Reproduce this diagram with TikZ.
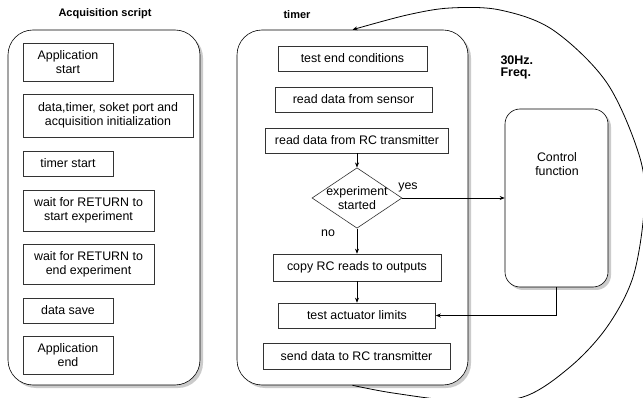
\documentclass[tikz,border=0pt]{standalone}
\usepackage{fontspec}
\setmainfont{Liberation Sans}
\usetikzlibrary{shapes.geometric,arrows.meta,shadows,positioning,calc}

\tikzset{
  box/.style={draw=black!80, line width=0.6pt, fill=white, align=center, inner sep=1pt,
    font=\fontsize{12.4}{14}\selectfont},
  panel/.style={draw, line width=0.6pt, fill=white, inner sep=0pt,
    drop shadow={shadow xshift=3pt, shadow yshift=-3pt, fill=black!40}},
  heading/.style={font=\fontsize{11}{13}\selectfont\bfseries},
  flow/.style={-{Stealth[length=5pt,width=4pt]}, line width=0.6pt},
}

\begin{document}
\begin{tikzpicture}[x=1pt, y=-1pt]
            \fill[white] (0,0) rectangle (643,398);
            \useasboundingbox (0,0) rectangle (643,398);

            % Acquisition script
            \node[panel, rounded corners=25pt, minimum width=192pt, minimum height=355pt] (acq) at (104,207.5) {};
            \node[heading] (acqtitle) at (105,14) {Acquisition script};
            \node[box, minimum width=90pt, minimum height=38pt] (appstart) at (68,62) {Application\\start};
            \node[box, minimum width=170pt, minimum height=43pt] (init) at (108,115.5) {data,timer, soket port and\\acquisition initialization};
            \node[box, minimum width=90pt, minimum height=25pt] (tstart) at (68,163.5) {timer start};
            \node[box, minimum width=131pt, minimum height=41pt] (waitstart) at (88.5,210.5) {wait for RETURN to\\start experiment};
            \node[box, minimum width=131pt, minimum height=40pt] (waitend) at (88.5,264) {wait for RETURN to\\end experiment};
            \node[box, minimum width=90pt, minimum height=25pt] (save) at (68,310.5) {data save};
            \node[box, minimum width=90pt, minimum height=38pt] (append) at (68,355) {Application\\end};

            % timer
            \node[panel, rounded corners=25pt, minimum width=231pt, minimum height=355pt] (timer) at (352.5,207.5) {};
            \node[heading] (timertitle) at (297,15) {timer};
            \node[box, minimum width=149pt, minimum height=25pt] (testend) at (352.5,58.5) {test end conditions};
            \node[box, minimum width=157pt, minimum height=25pt] (sensor) at (353.5,99.5) {read data from sensor};
            \node[box, minimum width=183pt, minimum height=25pt] (rcread) at (357,140.5) {read data from RC transmitter};
            \node[box, diamond, inner sep=-6pt, minimum width=90pt, minimum height=50pt] (started) at (357,198) {experiment\\started};
            \node[box, minimum width=168pt, minimum height=27pt] (copy) at (357,267.5) {copy RC reads to outputs};
            \node[box, minimum width=157pt, minimum height=25pt] (limits) at (357,315.5) {test actuator limits};
            \node[box, minimum width=187pt, minimum height=26pt] (send) at (356.5,356) {send data to RC transmitter};

            % Control function
            \node[panel, rounded corners=15pt, minimum width=103pt, minimum height=178pt] (ctrl) at (556.5,198) {};
            \node[box, draw=none, fill=none] (ctrltext) at (557,164) {Control\\function};
            \node[heading, anchor=west, align=left, font=\fontsize{12.5}{12}\selectfont\bfseries] (freq) at (497,67) {30Hz.\\Freq.};

            % Flow
            \draw[flow] (rcread) -- (started);
            \draw[flow] (started) -- (copy);
            \draw[flow] (copy) -- (limits);
            \draw[flow] (started.east) -- (started.east -| ctrl.west);
            \draw[flow, line width=0.9pt] (ctrl.south) |- (limits.east);
            \node[box, draw=none, fill=none] (yes) at (408,187) {yes};
            \node[box, draw=none, fill=none] (no) at (328,233) {no};

            % Loop
            \draw[flow, line width=0.8pt] plot[smooth, tension=0.55] coordinates {(timer.south) (393,393) (460,401) (523,397) (570,367) (607,327) (633,277) (644,210) (640,158) (607,83) (553,30) (500,10) (450,8) (407,15) (timer.north)};
\end{tikzpicture}
\end{document}
